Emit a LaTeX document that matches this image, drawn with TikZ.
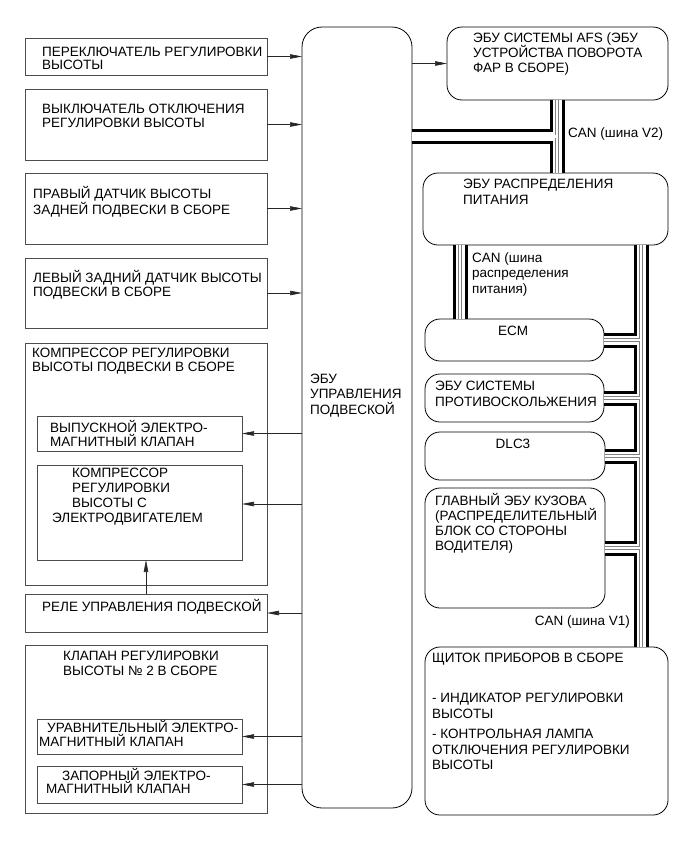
\documentclass[tikz,border=0pt]{standalone}
\usepackage{fontspec}
\setmainfont{Liberation Sans}
\usetikzlibrary{arrows.meta,calc}
% fixed first-line height for top-aligned texts
\newcommand{\topln}{\rule{0pt}{13pt}}

\begin{document}
\begin{tikzpicture}[x=1pt, y=-1pt, >={Triangle[length=12pt,width=4.5pt]},
		font=\fontsize{13.5}{14.5}\selectfont,
		blk/.style={draw=black!70, line width=0.7pt, anchor=north west, inner sep=0pt, outer sep=0pt},
		ecubox/.style={blk, draw=black, line width=0.8pt, rounded corners=15pt},
		txt/.style={anchor=north west, inner sep=0pt, align=left},
		wide/.style={font=\fontsize{13.5}{#1}\selectfont},
		arr/.style={->, line width=0.6pt, black!85},
		canpair/.style={line width=3pt, double=white, double distance=9pt},
		canmid/.style={line width=0.6pt, draw=black!50, double=white, double distance=2.2pt}]
		\useasboundingbox (0,0) rectangle (691,854);
		% left column
		\node[blk, minimum width=242pt, minimum height=37pt] (hsw) at (25,38) {};
		\node[blk, minimum width=242pt, minimum height=71pt] (offsw) at (25,89) {};
		\node[blk, minimum width=242pt, minimum height=71pt] (rsens) at (25,173) {};
		\node[blk, minimum width=242pt, minimum height=70pt] (lsens) at (25,258) {};
		\node[blk, minimum width=242pt, minimum height=242pt] (comp) at (25,343) {};
		\node[blk, minimum width=205pt, minimum height=35pt] (exh) at (37,416) {};
		\node[blk, minimum width=205pt, minimum height=95pt] (motor) at (37,465) {};
		\node[blk, minimum width=242pt, minimum height=38pt] (relay) at (25,594) {};
		\node[blk, minimum width=242pt, minimum height=168pt] (valve) at (25,645) {};
		\node[blk, minimum width=205pt, minimum height=35pt] (eqv) at (37,719) {};
		\node[blk, minimum width=205pt, minimum height=37pt] (shut) at (37,766) {};
		\node[txt, wide=13.5] at (42,43) {\topln ПЕРЕКЛЮЧАТЕЛЬ РЕГУЛИРОВКИ\\ВЫСОТЫ};
		\node[txt] at (42,100) {\topln ВЫКЛЮЧАТЕЛЬ ОТКЛЮЧЕНИЯ\\РЕГУЛИРОВКИ ВЫСОТЫ};
		\node[txt] at (33,185) {\topln ПРАВЫЙ ДАТЧИК ВЫСОТЫ\\ЗАДНЕЙ ПОДВЕСКИ В СБОРЕ};
		\node[txt] at (33,269) {\topln ЛЕВЫЙ ЗАДНИЙ ДАТЧИК ВЫСОТЫ\\ПОДВЕСКИ В СБОРЕ};
		\node[txt] at (32,344) {\topln КОМПРЕССОР РЕГУЛИРОВКИ\\ВЫСОТЫ ПОДВЕСКИ В СБОРЕ};
		\node[txt] at (50,419) {\topln ВЫПУСКНОЙ ЭЛЕКТРО-\\МАГНИТНЫЙ КЛАПАН};
		\node[txt, wide=15] at (52,464) {\topln\hspace*{20pt}КОМПРЕССОР\\\hspace*{20pt}РЕГУЛИРОВКИ\\\hspace*{20pt}ВЫСОТЫ С\\ЭЛЕКТРОДВИГАТЕЛЕМ};
		\node[txt, anchor=base west] at (42,611) {РЕЛЕ УПРАВЛЕНИЯ ПОДВЕСКОЙ};
		\node[txt, wide=15.5] at (63,647) {\topln КЛАПАН РЕГУЛИРОВКИ\\ВЫСОТЫ № 2 В СБОРЕ};
		\node[txt, wide=14] at (39,719) {\topln\hspace*{8pt}УРАВНИТЕЛЬНЫЙ ЭЛЕКТРО-\\МАГНИТНЫЙ КЛАПАН};
		\node[txt, wide=13.5] at (46,767) {\topln\hspace*{16pt}ЗАПОРНЫЙ ЭЛЕКТРО-\\МАГНИТНЫЙ КЛАПАН};
		% suspension ECU
		\node[ecubox, rounded corners=20pt, minimum width=110pt, minimum height=781pt] (ecu) at (302,27) {};
		\node[txt, wide=15.5] at (310,370) {\topln ЭБУ\\УПРАВЛЕНИЯ\\ПОДВЕСКОЙ};
		% right column
		\node[ecubox, minimum width=221pt, minimum height=73pt] (afs) at (447,27) {};
		\node[ecubox, minimum width=245pt, minimum height=72pt] (psu) at (423,173) {};
		\node[ecubox, minimum width=179pt, minimum height=42pt] (ecm) at (425,319) {};
		\node[ecubox, minimum width=179pt, minimum height=48pt] (anti) at (425,374) {};
		\node[ecubox, minimum width=180pt, minimum height=48pt] (dlc) at (425,432) {};
		\node[ecubox, minimum width=180pt, minimum height=120pt] (body) at (425,488) {};
		\node[ecubox, minimum width=243pt, minimum height=168pt] (cluster) at (425,647) {};
		\node[txt, wide=15] at (473,29) {\topln ЭБУ СИСТЕМЫ AFS (ЭБУ\\УСТРОЙСТВА ПОВОРОТА\\ФАР В СБОРЕ)};
		\node[txt, wide=16.5] at (463,175) {\topln ЭБУ РАСПРЕДЕЛЕНИЯ\\ПИТАНИЯ};
		\node[txt, anchor=base] at (513,335) {ECM};
		\node[txt, wide=16] at (435,377) {\topln ЭБУ СИСТЕМЫ\\ПРОТИВОСКОЛЬЖЕНИЯ};
		\node[txt, anchor=base] at (513,448) {DLC3};
		\node[txt, wide=15] at (435,492) {\topln ГЛАВНЫЙ ЭБУ КУЗОВА\\(РАСПРЕДЕЛИТЕЛЬНЫЙ\\БЛОК СО СТОРОНЫ\\ВОДИТЕЛЯ)};
		\node[txt, wide=15.5] at (432,649) {\topln ЩИТОК ПРИБОРОВ В СБОРЕ\\[25pt]- ИНДИКАТОР РЕГУЛИРОВКИ\\ВЫСОТЫ\\[5pt]- КОНТРОЛЬНАЯ ЛАМПА\\ОТКЛЮЧЕНИЯ РЕГУЛИРОВКИ\\ВЫСОТЫ};
		% inputs
		\foreach \n in {hsw,offsw,rsens,lsens}
			\draw[arr] (\n.east) -- (\n.east -| ecu.west);
		% outputs
		\foreach \n in {exh,relay,eqv,shut}
			\draw[arr] (\n.east -| ecu.west) -- (\n.east);
		\draw[arr] ([yshift=8.5pt]motor.east -| ecu.west) -- ([yshift=8.5pt]motor.east);
		\draw[arr] (relay.north) -- (relay.north |- motor.south);
		\draw[arr] (afs.west -| ecu.east) -- (afs.west);
		% CAN V2
		\coordinate (v2) at (557,136.5);
		\draw[canpair] (afs.south -| v2) -- (psu.north -| v2);
		\draw[canmid] (afs.south -| v2) -- (psu.north -| v2);
		\draw[canpair] (ecu.east |- v2) -- ($(v2)+(-4.5,0)$);
		\draw[canmid] (ecu.east |- v2) -- ($(v2)+(-1.4,0)$);
		\node[txt, anchor=base west] at (568,137) {CAN (шина V2)};
		% CAN power distribution
		\coordinate (pd) at (460,0);
		\draw[canpair] (psu.south -| pd) -- (ecm.north -| pd);
		\draw[canmid] (psu.south -| pd) -- (ecm.north -| pd);
		\node[txt, wide=15.5] at (472,249) {\topln CAN (шина\\распределения\\питания)};
		% CAN V1
		\coordinate (v1) at (641,0);
		\draw[canpair] (psu.south -| v1) -- (cluster.north -| v1);
		\draw[canmid] (psu.south -| v1) -- (cluster.north -| v1);
		\foreach \n in {ecm,anti,dlc,body} {
			\draw[canpair] (\n.east) -- ($(\n.east -| v1)+(-4.5,0)$);
			\draw[canmid] (\n.east) -- ($(\n.east -| v1)+(-1.4,0)$);
		}
		\node[txt, anchor=base east] at (630,625) {CAN (шина V1)};
	\end{tikzpicture}
\end{document}
